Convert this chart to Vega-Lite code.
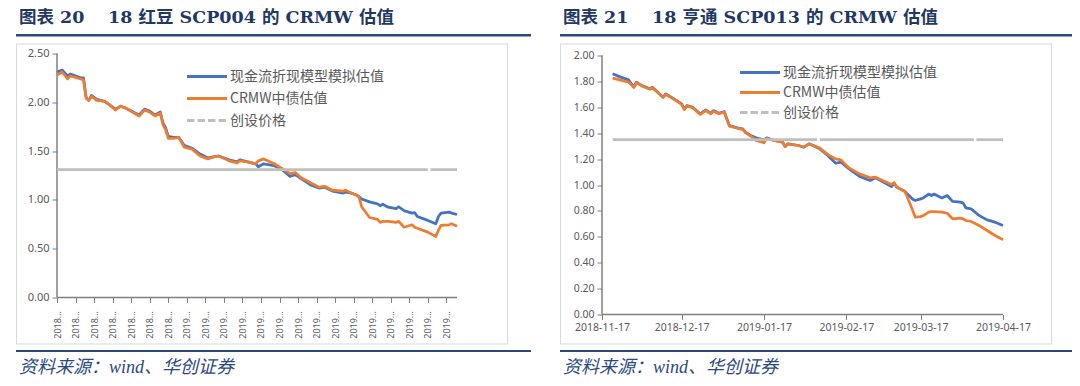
{
  "$schema": "https://vega.github.io/schema/vega-lite/v6.json",
  "background": "white",
  "padding": {"left": 15, "top": 8, "right": 0, "bottom": 0},
  "config": {
    "view": {"stroke": null},
    "font": "Noto Sans",
    "axis": {"labelColor": "#595959", "tickColor": "#808080", "tickSize": 5, "tickWidth": 1, "domain": false, "grid": false, "labelFont": "Noto Sans", "labelFlush": false, "labelBound": false, "labelOverlap": false, "tickCount": 40}
  },
  "datasets": {
    "model_20": [
      {"date": "2018-11-17", "value": 2.31}, {"date": "2018-11-19", "value": 2.33}, {"date": "2018-11-21", "value": 2.27}, {"date": "2018-11-22", "value": 2.29},
      {"date": "2018-11-26", "value": 2.25}, {"date": "2018-11-27", "value": 2.25}, {"date": "2018-11-28", "value": 2.05}, {"date": "2018-11-29", "value": 2.02},
      {"date": "2018-11-30", "value": 2.07}, {"date": "2018-12-02", "value": 2.03}, {"date": "2018-12-05", "value": 2.01}, {"date": "2018-12-07", "value": 1.97},
      {"date": "2018-12-09", "value": 1.93}, {"date": "2018-12-11", "value": 1.96}, {"date": "2018-12-13", "value": 1.94}, {"date": "2018-12-18", "value": 1.87},
      {"date": "2018-12-20", "value": 1.93}, {"date": "2018-12-22", "value": 1.91}, {"date": "2018-12-24", "value": 1.87}, {"date": "2018-12-26", "value": 1.90},
      {"date": "2018-12-27", "value": 1.79}, {"date": "2018-12-28", "value": 1.74}, {"date": "2018-12-29", "value": 1.65}, {"date": "2018-12-31", "value": 1.64},
      {"date": "2019-01-02", "value": 1.64}, {"date": "2019-01-04", "value": 1.56}, {"date": "2019-01-07", "value": 1.53}, {"date": "2019-01-10", "value": 1.47},
      {"date": "2019-01-13", "value": 1.43}, {"date": "2019-01-15", "value": 1.44}, {"date": "2019-01-17", "value": 1.45}, {"date": "2019-01-21", "value": 1.41},
      {"date": "2019-01-24", "value": 1.39}, {"date": "2019-01-25", "value": 1.41}, {"date": "2019-01-28", "value": 1.39}, {"date": "2019-01-31", "value": 1.37},
      {"date": "2019-02-01", "value": 1.34}, {"date": "2019-02-03", "value": 1.37}, {"date": "2019-02-07", "value": 1.35}, {"date": "2019-02-10", "value": 1.31},
      {"date": "2019-02-13", "value": 1.24}, {"date": "2019-02-15", "value": 1.26}, {"date": "2019-02-17", "value": 1.22}, {"date": "2019-02-21", "value": 1.15},
      {"date": "2019-02-24", "value": 1.12}, {"date": "2019-02-26", "value": 1.13}, {"date": "2019-03-01", "value": 1.09}, {"date": "2019-03-05", "value": 1.07},
      {"date": "2019-03-06", "value": 1.08}, {"date": "2019-03-08", "value": 1.07}, {"date": "2019-03-10", "value": 1.05}, {"date": "2019-03-11", "value": 1.035},
      {"date": "2019-03-12", "value": 1.01}, {"date": "2019-03-15", "value": 0.98}, {"date": "2019-03-18", "value": 0.96}, {"date": "2019-03-19", "value": 0.94},
      {"date": "2019-03-20", "value": 0.955}, {"date": "2019-03-22", "value": 0.925}, {"date": "2019-03-25", "value": 0.91}, {"date": "2019-03-26", "value": 0.93},
      {"date": "2019-03-28", "value": 0.89}, {"date": "2019-03-31", "value": 0.865}, {"date": "2019-04-01", "value": 0.87}, {"date": "2019-04-02", "value": 0.83},
      {"date": "2019-04-06", "value": 0.79}, {"date": "2019-04-09", "value": 0.755}, {"date": "2019-04-10", "value": 0.83}, {"date": "2019-04-11", "value": 0.865},
      {"date": "2019-04-14", "value": 0.875}, {"date": "2019-04-15", "value": 0.865}, {"date": "2019-04-17", "value": 0.85}
    ],
    "crmw_20": [
      {"date": "2018-11-17", "value": 2.28}, {"date": "2018-11-19", "value": 2.31}, {"date": "2018-11-21", "value": 2.24}, {"date": "2018-11-22", "value": 2.27},
      {"date": "2018-11-26", "value": 2.24}, {"date": "2018-11-27", "value": 2.23}, {"date": "2018-11-28", "value": 2.04}, {"date": "2018-11-29", "value": 2.02},
      {"date": "2018-11-30", "value": 2.06}, {"date": "2018-12-02", "value": 2.02}, {"date": "2018-12-05", "value": 2.01}, {"date": "2018-12-07", "value": 1.97},
      {"date": "2018-12-09", "value": 1.92}, {"date": "2018-12-11", "value": 1.96}, {"date": "2018-12-13", "value": 1.94}, {"date": "2018-12-18", "value": 1.86},
      {"date": "2018-12-20", "value": 1.92}, {"date": "2018-12-22", "value": 1.90}, {"date": "2018-12-24", "value": 1.86}, {"date": "2018-12-26", "value": 1.89},
      {"date": "2018-12-27", "value": 1.77}, {"date": "2018-12-28", "value": 1.72}, {"date": "2018-12-29", "value": 1.63}, {"date": "2018-12-31", "value": 1.63},
      {"date": "2019-01-02", "value": 1.64}, {"date": "2019-01-04", "value": 1.54}, {"date": "2019-01-07", "value": 1.52}, {"date": "2019-01-10", "value": 1.45},
      {"date": "2019-01-13", "value": 1.42}, {"date": "2019-01-15", "value": 1.44}, {"date": "2019-01-17", "value": 1.45}, {"date": "2019-01-21", "value": 1.40},
      {"date": "2019-01-24", "value": 1.38}, {"date": "2019-01-25", "value": 1.40}, {"date": "2019-01-28", "value": 1.39}, {"date": "2019-01-31", "value": 1.37},
      {"date": "2019-02-01", "value": 1.40}, {"date": "2019-02-03", "value": 1.42}, {"date": "2019-02-07", "value": 1.37}, {"date": "2019-02-10", "value": 1.32},
      {"date": "2019-02-13", "value": 1.27}, {"date": "2019-02-15", "value": 1.28}, {"date": "2019-02-17", "value": 1.23}, {"date": "2019-02-21", "value": 1.17},
      {"date": "2019-02-24", "value": 1.13}, {"date": "2019-02-26", "value": 1.14}, {"date": "2019-03-01", "value": 1.10}, {"date": "2019-03-05", "value": 1.09},
      {"date": "2019-03-06", "value": 1.10}, {"date": "2019-03-08", "value": 1.07}, {"date": "2019-03-10", "value": 1.05}, {"date": "2019-03-11", "value": 1.03},
      {"date": "2019-03-12", "value": 0.93}, {"date": "2019-03-15", "value": 0.82}, {"date": "2019-03-18", "value": 0.80}, {"date": "2019-03-19", "value": 0.77},
      {"date": "2019-03-20", "value": 0.78}, {"date": "2019-03-22", "value": 0.78}, {"date": "2019-03-25", "value": 0.77}, {"date": "2019-03-26", "value": 0.78},
      {"date": "2019-03-28", "value": 0.72}, {"date": "2019-03-31", "value": 0.745}, {"date": "2019-04-01", "value": 0.72}, {"date": "2019-04-02", "value": 0.71},
      {"date": "2019-04-06", "value": 0.67}, {"date": "2019-04-09", "value": 0.625}, {"date": "2019-04-10", "value": 0.69}, {"date": "2019-04-11", "value": 0.74},
      {"date": "2019-04-14", "value": 0.745}, {"date": "2019-04-15", "value": 0.755}, {"date": "2019-04-17", "value": 0.73}
    ],
    "issue_20": [
      {"date": "2018-11-17", "value": 1.31, "seg": 1}, {"date": "2019-04-06", "value": 1.31, "seg": 1},
      {"date": "2019-04-07", "value": 1.31, "seg": 2}, {"date": "2019-04-17", "value": 1.31, "seg": 2}
    ],
    "model_21": [
      {"date": "2018-11-21", "value": 1.86}, {"date": "2018-11-24", "value": 1.833}, {"date": "2018-11-27", "value": 1.812}, {"date": "2018-11-29", "value": 1.755},
      {"date": "2018-11-30", "value": 1.794}, {"date": "2018-12-02", "value": 1.768}, {"date": "2018-12-05", "value": 1.743}, {"date": "2018-12-06", "value": 1.755},
      {"date": "2018-12-08", "value": 1.717}, {"date": "2018-12-10", "value": 1.678}, {"date": "2018-12-11", "value": 1.704}, {"date": "2018-12-14", "value": 1.666},
      {"date": "2018-12-16", "value": 1.64}, {"date": "2018-12-17", "value": 1.627}, {"date": "2018-12-18", "value": 1.588}, {"date": "2018-12-19", "value": 1.614},
      {"date": "2018-12-21", "value": 1.601}, {"date": "2018-12-24", "value": 1.55}, {"date": "2018-12-26", "value": 1.58}, {"date": "2018-12-28", "value": 1.554},
      {"date": "2018-12-29", "value": 1.575}, {"date": "2018-12-31", "value": 1.554}, {"date": "2019-01-02", "value": 1.567}, {"date": "2019-01-03", "value": 1.511},
      {"date": "2019-01-04", "value": 1.459}, {"date": "2019-01-07", "value": 1.441}, {"date": "2019-01-09", "value": 1.434}, {"date": "2019-01-10", "value": 1.408},
      {"date": "2019-01-12", "value": 1.382}, {"date": "2019-01-14", "value": 1.364}, {"date": "2019-01-17", "value": 1.349}, {"date": "2019-01-18", "value": 1.364},
      {"date": "2019-01-21", "value": 1.344}, {"date": "2019-01-24", "value": 1.331}, {"date": "2019-01-25", "value": 1.297}, {"date": "2019-01-26", "value": 1.318},
      {"date": "2019-01-30", "value": 1.305}, {"date": "2019-02-01", "value": 1.292}, {"date": "2019-02-03", "value": 1.318}, {"date": "2019-02-07", "value": 1.279},
      {"date": "2019-02-10", "value": 1.228}, {"date": "2019-02-13", "value": 1.168}, {"date": "2019-02-15", "value": 1.176}, {"date": "2019-02-18", "value": 1.125},
      {"date": "2019-02-22", "value": 1.066}, {"date": "2019-02-26", "value": 1.035}, {"date": "2019-02-28", "value": 1.055}, {"date": "2019-03-06", "value": 0.988},
      {"date": "2019-03-07", "value": 1.014}, {"date": "2019-03-08", "value": 0.983}, {"date": "2019-03-11", "value": 0.952}, {"date": "2019-03-12", "value": 0.93},
      {"date": "2019-03-14", "value": 0.89}, {"date": "2019-03-15", "value": 0.88}, {"date": "2019-03-17", "value": 0.893}, {"date": "2019-03-18", "value": 0.90},
      {"date": "2019-03-20", "value": 0.93}, {"date": "2019-03-21", "value": 0.919}, {"date": "2019-03-22", "value": 0.93}, {"date": "2019-03-25", "value": 0.90},
      {"date": "2019-03-27", "value": 0.919}, {"date": "2019-03-29", "value": 0.873}, {"date": "2019-04-01", "value": 0.868}, {"date": "2019-04-02", "value": 0.86},
      {"date": "2019-04-03", "value": 0.824}, {"date": "2019-04-05", "value": 0.816}, {"date": "2019-04-08", "value": 0.765}, {"date": "2019-04-09", "value": 0.753},
      {"date": "2019-04-11", "value": 0.731}, {"date": "2019-04-14", "value": 0.713}, {"date": "2019-04-17", "value": 0.687}
    ],
    "crmw_21": [
      {"date": "2018-11-21", "value": 1.825}, {"date": "2018-11-24", "value": 1.81}, {"date": "2018-11-27", "value": 1.795}, {"date": "2018-11-29", "value": 1.755},
      {"date": "2018-11-30", "value": 1.79}, {"date": "2018-12-02", "value": 1.765}, {"date": "2018-12-05", "value": 1.74}, {"date": "2018-12-06", "value": 1.75},
      {"date": "2018-12-08", "value": 1.714}, {"date": "2018-12-10", "value": 1.675}, {"date": "2018-12-11", "value": 1.70}, {"date": "2018-12-14", "value": 1.663},
      {"date": "2018-12-16", "value": 1.637}, {"date": "2018-12-17", "value": 1.62}, {"date": "2018-12-18", "value": 1.582}, {"date": "2018-12-19", "value": 1.61},
      {"date": "2018-12-21", "value": 1.598}, {"date": "2018-12-24", "value": 1.545}, {"date": "2018-12-26", "value": 1.575}, {"date": "2018-12-28", "value": 1.55},
      {"date": "2018-12-29", "value": 1.57}, {"date": "2018-12-31", "value": 1.55}, {"date": "2019-01-02", "value": 1.563}, {"date": "2019-01-03", "value": 1.508},
      {"date": "2019-01-04", "value": 1.455}, {"date": "2019-01-07", "value": 1.438}, {"date": "2019-01-09", "value": 1.43}, {"date": "2019-01-10", "value": 1.405},
      {"date": "2019-01-12", "value": 1.378}, {"date": "2019-01-14", "value": 1.344}, {"date": "2019-01-17", "value": 1.326}, {"date": "2019-01-18", "value": 1.36},
      {"date": "2019-01-21", "value": 1.342}, {"date": "2019-01-24", "value": 1.33}, {"date": "2019-01-25", "value": 1.297}, {"date": "2019-01-26", "value": 1.318},
      {"date": "2019-01-30", "value": 1.305}, {"date": "2019-02-01", "value": 1.292}, {"date": "2019-02-03", "value": 1.318}, {"date": "2019-02-07", "value": 1.285},
      {"date": "2019-02-10", "value": 1.236}, {"date": "2019-02-13", "value": 1.202}, {"date": "2019-02-15", "value": 1.194}, {"date": "2019-02-18", "value": 1.132},
      {"date": "2019-02-22", "value": 1.086}, {"date": "2019-02-26", "value": 1.055}, {"date": "2019-02-28", "value": 1.06}, {"date": "2019-03-06", "value": 1.004},
      {"date": "2019-03-07", "value": 1.018}, {"date": "2019-03-08", "value": 0.985}, {"date": "2019-03-11", "value": 0.95}, {"date": "2019-03-12", "value": 0.906},
      {"date": "2019-03-13", "value": 0.855}, {"date": "2019-03-15", "value": 0.751}, {"date": "2019-03-17", "value": 0.756}, {"date": "2019-03-18", "value": 0.764},
      {"date": "2019-03-20", "value": 0.79}, {"date": "2019-03-21", "value": 0.795}, {"date": "2019-03-22", "value": 0.795}, {"date": "2019-03-25", "value": 0.79},
      {"date": "2019-03-27", "value": 0.782}, {"date": "2019-03-29", "value": 0.739}, {"date": "2019-04-01", "value": 0.744}, {"date": "2019-04-02", "value": 0.739},
      {"date": "2019-04-03", "value": 0.726}, {"date": "2019-04-05", "value": 0.718}, {"date": "2019-04-08", "value": 0.687}, {"date": "2019-04-11", "value": 0.649},
      {"date": "2019-04-14", "value": 0.61}, {"date": "2019-04-17", "value": 0.577}
    ],
    "issue_21": [
      {"date": "2018-11-21", "value": 1.35, "seg": 1}, {"date": "2019-02-06", "value": 1.35, "seg": 1},
      {"date": "2019-02-07", "value": 1.35, "seg": 2}, {"date": "2019-04-06", "value": 1.35, "seg": 2},
      {"date": "2019-04-07", "value": 1.35, "seg": 3}, {"date": "2019-04-17", "value": 1.35, "seg": 3}
    ]
  },
  "hconcat": [
    {
      "spacing": 5.5,
      "resolve": {"scale": {"color": "independent", "strokeDash": "independent", "x": "independent", "y": "independent"}, "legend": {"color": "independent", "strokeDash": "independent"}},
      "vconcat": [
        {
          "width": 515, "height": 2.5,
          "view": {"fill": "#28497A", "stroke": null},
          "data": {"values": []},
          "mark": "point",
          "title": {"text": "图表 20\u3000 18 红豆 SCP004 的 CRMW 估值", "anchor": "start", "dx": 3, "offset": 8, "font": "DejaVu Serif, Noto Sans CJK SC", "fontSize": 17.5, "fontWeight": "bold", "color": "#1F3864"}
        },
        {
          "width": 491, "height": 300,
          "view": {"fill": "white", "stroke": "#D9D9D9", "strokeWidth": 1},
          "layer": [
            {
              "data": {"values": [{}]},
              "mark": {"type": "rule", "color": "#808080", "strokeWidth": 1.5},
              "encoding": {
                "x": {"datum": {"year": 2018, "month": 11, "date": 17, "utc": true}, "type": "temporal", "scale": {"type": "utc", "domain": [{"year": 2018, "month": 11, "date": 1, "hours": 12, "minutes": 32, "utc": true}, {"year": 2019, "month": 5, "date": 5, "hours": 21, "utc": true}]}},
                "y": {"datum": 0, "type": "quantitative", "scale": {"domain": [-0.4713, 2.6025], "nice": false, "zero": false}},
                "y2": {"datum": 2.5}
              }
            },
            {
              "data": {"values": [{}]},
              "mark": {"type": "rule", "color": "#808080", "strokeWidth": 1.5},
              "encoding": {
                "x": {"datum": {"year": 2018, "month": 11, "date": 17, "utc": true}, "type": "temporal"},
                "x2": {"datum": {"year": 2019, "month": 4, "date": 17, "utc": true}},
                "y": {"datum": 0, "type": "quantitative"}
              }
            },
            {
              "data": {"name": "model_20"},
              "mark": {"type": "line", "strokeWidth": 2.75, "strokeJoin": "round"},
              "encoding": {
                "x": {"field": "date", "type": "temporal", "scale": {"type": "utc"},
                  "axis": {"orient": "bottom", "offset": -46, "title": null, "labelOverlap": false, "tickCount": 40, "values": [
                    {"year": 2018, "month": 11, "date": 17, "utc": true}, {"year": 2018, "month": 11, "date": 24, "utc": true},
                    {"year": 2018, "month": 12, "date": 1, "utc": true}, {"year": 2018, "month": 12, "date": 8, "utc": true},
                    {"year": 2018, "month": 12, "date": 15, "utc": true}, {"year": 2018, "month": 12, "date": 22, "utc": true},
                    {"year": 2018, "month": 12, "date": 29, "utc": true}, {"year": 2019, "month": 1, "date": 5, "utc": true},
                    {"year": 2019, "month": 1, "date": 12, "utc": true}, {"year": 2019, "month": 1, "date": 19, "utc": true},
                    {"year": 2019, "month": 1, "date": 26, "utc": true}, {"year": 2019, "month": 2, "date": 2, "utc": true},
                    {"year": 2019, "month": 2, "date": 9, "utc": true}, {"year": 2019, "month": 2, "date": 16, "utc": true},
                    {"year": 2019, "month": 2, "date": 23, "utc": true}, {"year": 2019, "month": 3, "date": 2, "utc": true},
                    {"year": 2019, "month": 3, "date": 9, "utc": true}, {"year": 2019, "month": 3, "date": 16, "utc": true},
                    {"year": 2019, "month": 3, "date": 23, "utc": true}, {"year": 2019, "month": 3, "date": 30, "utc": true},
                    {"year": 2019, "month": 4, "date": 6, "utc": true}, {"year": 2019, "month": 4, "date": 13, "utc": true}
                  ], "labelExpr": "utcFormat(datum.value, '%Y') + '…'", "labelAngle": 270, "labelFontSize": 9, "labelPadding": 8}},
                "y": {"field": "value", "type": "quantitative",
                  "axis": {"orient": "left", "offset": -41, "title": null, "labelOverlap": false, "tickCount": 40, "values": [0, 0.5, 1, 1.5, 2, 2.5], "format": ".2f", "labelFontSize": 11, "labelPadding": 3}},
                "color": {"datum": "现金流折现模型模拟估值", "type": "nominal"}
              }
            },
            {
              "data": {"name": "crmw_20"},
              "mark": {"type": "line", "strokeWidth": 2.75, "strokeJoin": "round"},
              "encoding": {
                "x": {"field": "date", "type": "temporal"},
                "y": {"field": "value", "type": "quantitative"},
                "color": {"datum": "CRMW中债估值", "type": "nominal"}
              }
            },
            {
              "data": {"name": "issue_20"},
              "mark": {"type": "line", "strokeWidth": 2.75, "color": "#BFBFBF"},
              "encoding": {
                "x": {"field": "date", "type": "temporal"},
                "y": {"field": "value", "type": "quantitative"},
                "detail": {"field": "seg", "type": "nominal"}
              }
            },
            {
              "data": {"values": []},
              "mark": {"type": "line", "strokeWidth": 2.75},
              "encoding": {
                "x": {"field": "date", "type": "temporal"},
                "y": {"field": "value", "type": "quantitative"},
                "color": {"datum": "创设价格", "type": "nominal",
                  "scale": {"domain": ["现金流折现模型模拟估值", "CRMW中债估值", "创设价格"], "range": ["#4472C4", "#ED7D31", "#BFBFBF"]},
                  "legend": {"orient": "none", "legendX": 164, "legendY": 26, "title": null, "symbolType": "M0,0L8,0", "symbolSize": 100, "symbolStrokeWidth": 3, "labelFont": "Noto Sans CJK SC", "labelFontSize": 14, "labelColor": "#595959", "labelOffset": 36, "rowPadding": 8, "padding": 0}},
                "strokeDash": {"datum": "创设价格", "type": "nominal",
                  "scale": {"domain": ["现金流折现模型模拟估值", "CRMW中债估值", "创设价格"], "range": [[1, 0], [1, 0], [7.5, 3]]},
                  "legend": {"orient": "none", "legendX": 164, "legendY": 26, "title": null, "symbolType": "M0,0L8,0", "symbolSize": 100, "symbolStrokeWidth": 3, "labelFont": "Noto Sans CJK SC", "labelFontSize": 14, "labelColor": "#595959", "labelOffset": 36, "rowPadding": 8, "padding": 0}}
              }
            }
          ]
        },
        {
          "width": 515, "height": 2,
          "view": {"fill": "#28497A", "stroke": null},
          "data": {"values": []},
          "mark": "point",
          "title": {"text": "资料来源：wind、华创证券", "orient": "bottom", "anchor": "start", "dx": 3, "offset": 7, "font": "Liberation Serif, Noto Sans CJK SC", "fontSize": 18, "fontWeight": "normal", "fontStyle": "italic", "color": "#2A4A7F"}
        }
      ]
    },
    {
      "spacing": 5.5,
      "resolve": {"scale": {"color": "independent", "strokeDash": "independent", "x": "independent", "y": "independent"}, "legend": {"color": "independent", "strokeDash": "independent"}},
      "vconcat": [
        {
          "width": 512, "height": 2.5,
          "view": {"fill": "#28497A", "stroke": null},
          "data": {"values": []},
          "mark": "point",
          "title": {"text": "图表 21\u3000 18 亨通 SCP013 的 CRMW 估值", "anchor": "start", "dx": 3, "offset": 8, "font": "DejaVu Serif, Noto Sans CJK SC", "fontSize": 17.5, "fontWeight": "bold", "color": "#1F3864"}
        },
        {
          "width": 491, "height": 300,
          "view": {"fill": "white", "stroke": "#D9D9D9", "strokeWidth": 1},
          "layer": [
            {
              "data": {"values": [{}]},
              "mark": {"type": "rule", "color": "#808080", "strokeWidth": 1.5},
              "encoding": {
                "x": {"datum": {"year": 2018, "month": 11, "date": 17, "utc": true}, "type": "temporal", "scale": {"type": "utc", "domain": [{"year": 2018, "month": 11, "date": 1, "hours": 4, "minutes": 25, "utc": true}, {"year": 2019, "month": 5, "date": 5, "hours": 1, "minutes": 48, "utc": true}]}},
                "y": {"datum": 0, "type": "quantitative", "scale": {"domain": [-0.2239, 2.0927], "nice": false, "zero": false}},
                "y2": {"datum": 2}
              }
            },
            {
              "data": {"values": [{}]},
              "mark": {"type": "rule", "color": "#808080", "strokeWidth": 1.5},
              "encoding": {
                "x": {"datum": {"year": 2018, "month": 11, "date": 17, "utc": true}, "type": "temporal"},
                "x2": {"datum": {"year": 2019, "month": 4, "date": 17, "utc": true}},
                "y": {"datum": 0, "type": "quantitative"}
              }
            },
            {
              "data": {"name": "model_21"},
              "mark": {"type": "line", "strokeWidth": 2.75, "strokeJoin": "round"},
              "encoding": {
                "x": {"field": "date", "type": "temporal", "scale": {"type": "utc"},
                  "axis": {"orient": "bottom", "offset": -29, "title": null, "labelOverlap": false, "tickCount": 40, "values": [
                    {"year": 2018, "month": 11, "date": 17, "utc": true}, {"year": 2018, "month": 12, "date": 17, "utc": true},
                    {"year": 2019, "month": 1, "date": 17, "utc": true}, {"year": 2019, "month": 2, "date": 17, "utc": true},
                    {"year": 2019, "month": 3, "date": 17, "utc": true}, {"year": 2019, "month": 4, "date": 17, "utc": true}
                  ], "labelExpr": "utcFormat(datum.value, '%Y-%m-%d')", "labelAngle": 0, "labelFontSize": 10.5, "labelPadding": 3}},
                "y": {"field": "value", "type": "quantitative",
                  "axis": {"orient": "left", "offset": -42, "title": null, "labelOverlap": false, "tickCount": 40, "values": [0, 0.2, 0.4, 0.6, 0.8, 1, 1.2, 1.4, 1.6, 1.8, 2], "format": ".2f", "labelFontSize": 10.5, "labelPadding": 3}},
                "color": {"datum": "现金流折现模型模拟估值", "type": "nominal"}
              }
            },
            {
              "data": {"name": "crmw_21"},
              "mark": {"type": "line", "strokeWidth": 2.75, "strokeJoin": "round"},
              "encoding": {
                "x": {"field": "date", "type": "temporal"},
                "y": {"field": "value", "type": "quantitative"},
                "color": {"datum": "CRMW中债估值", "type": "nominal"}
              }
            },
            {
              "data": {"name": "issue_21"},
              "mark": {"type": "line", "strokeWidth": 2.75, "color": "#BFBFBF"},
              "encoding": {
                "x": {"field": "date", "type": "temporal"},
                "y": {"field": "value", "type": "quantitative"},
                "detail": {"field": "seg", "type": "nominal"}
              }
            },
            {
              "data": {"values": []},
              "mark": {"type": "line", "strokeWidth": 2.75},
              "encoding": {
                "x": {"field": "date", "type": "temporal"},
                "y": {"field": "value", "type": "quantitative"},
                "color": {"datum": "创设价格", "type": "nominal",
                  "scale": {"domain": ["现金流折现模型模拟估值", "CRMW中债估值", "创设价格"], "range": ["#4472C4", "#ED7D31", "#BFBFBF"]},
                  "legend": {"orient": "none", "legendX": 173, "legendY": 22, "title": null, "symbolType": "M0,0L8,0", "symbolSize": 100, "symbolStrokeWidth": 3, "labelFont": "Noto Sans CJK SC", "labelFontSize": 14, "labelColor": "#595959", "labelOffset": 36, "rowPadding": 6, "padding": 0}},
                "strokeDash": {"datum": "创设价格", "type": "nominal",
                  "scale": {"domain": ["现金流折现模型模拟估值", "CRMW中债估值", "创设价格"], "range": [[1, 0], [1, 0], [7.5, 3]]},
                  "legend": {"orient": "none", "legendX": 173, "legendY": 22, "title": null, "symbolType": "M0,0L8,0", "symbolSize": 100, "symbolStrokeWidth": 3, "labelFont": "Noto Sans CJK SC", "labelFontSize": 14, "labelColor": "#595959", "labelOffset": 36, "rowPadding": 6, "padding": 0}}
              }
            }
          ]
        },
        {
          "width": 512, "height": 2,
          "view": {"fill": "#28497A", "stroke": null},
          "data": {"values": []},
          "mark": "point",
          "title": {"text": "资料来源：wind、华创证券", "orient": "bottom", "anchor": "start", "dx": 3, "offset": 7, "font": "Liberation Serif, Noto Sans CJK SC", "fontSize": 18, "fontWeight": "normal", "fontStyle": "italic", "color": "#2A4A7F"}
        }
      ]
    }
  ],
  "spacing": 28,
  "resolve": {"scale": {"color": "independent", "strokeDash": "independent"}, "legend": {"color": "independent", "strokeDash": "independent"}}
}
